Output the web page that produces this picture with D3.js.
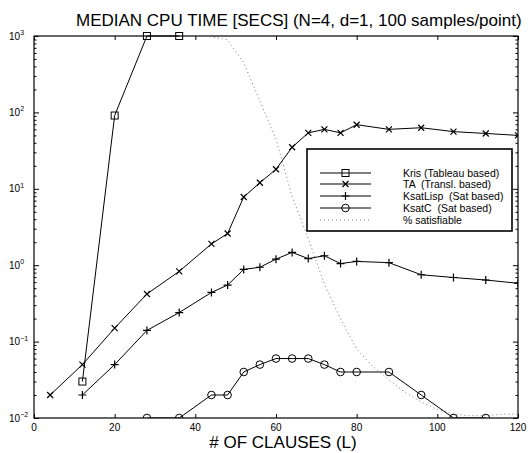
<!DOCTYPE html>
<html>
<head>
<meta charset="utf-8">
<script src="https://cdn.jsdelivr.net/npm/d3@7"></script>
<style>
  html, body { margin: 0; padding: 0; background: #fff; }
  svg { display: block; font-family: "Liberation Sans", Arial, Helvetica, sans-serif; }
</style>
</head>
<body>
<div id="chart"></div>
<script>
// --- données ---
const krisX = [12, 20, 28, 36];
const krisY = [0.03, 91, 1000, 1000];

const taX = [4, 12, 20, 28, 36, 44, 48, 52, 56, 60, 64, 68, 72, 76, 80, 88, 96, 104, 112, 120];
const taY = [0.02, 0.05, 0.15, 0.42, 0.83, 1.9, 2.6, 7.8, 12, 18, 35, 54, 60, 54, 69, 60, 63, 56, 53, 50];

const lispX = [12, 20, 28, 36, 44, 48, 52, 56, 60, 64, 68, 72, 76, 80, 88, 96, 104, 112, 120];
const lispY = [0.02, 0.05, 0.14, 0.24, 0.44, 0.55, 0.88, 0.94, 1.2, 1.47, 1.22, 1.33, 1.05, 1.12, 1.08, 0.75, 0.69, 0.64, 0.58];

const ksatcX = [28, 36, 44, 48, 52, 56, 60, 64, 68, 72, 76, 80, 88, 96, 104, 112];
const ksatcY = [0.01, 0.01, 0.02, 0.02, 0.04, 0.05, 0.06, 0.06, 0.06, 0.05, 0.04, 0.04, 0.04, 0.02, 0.01, 0.01];

// % satisfiable (0..100), tracé sur toute la hauteur du graphique
const satX = [0, 4, 8, 12, 16, 20, 24, 28, 32, 36, 40, 44, 48, 52, 56, 60, 64, 68, 72, 76, 80, 84, 88, 92, 96, 100, 104, 108, 112, 116, 120];
const satPct = [100, 100, 100, 100, 100, 100, 100, 100, 100, 100, 100, 99.8, 99, 93, 83, 73, 58, 47, 35, 26, 18, 13.5, 10, 6.7, 4.2, 2.2, 1, 0.6, 0.6, 1, 1];

const xTicks = [0, 20, 40, 60, 80, 100, 120];
const yExps = [-2, -1, 0, 1, 2, 3];

const titleText = "MEDIAN CPU TIME [SECS] (N=4, d=1, 100 samples/point)";
const xLabelText = "# OF CLAUSES (L)";
const legendLabels = ["Kris (Tableau based)", "TA  (Transl. based)", "KsatLisp  (Sat based)", "KsatC  (Sat based)", "% satisfiable"];

// --- mise en page ---
const W = 530, H = 453;
const margin = {top: 36, right: 12, bottom: 35, left: 34};
const width = W - margin.left - margin.right;
const height = H - margin.top - margin.bottom;

const svg = d3.select("#chart").append("svg")
    .attr("width", W)
    .attr("height", H);

const g = svg.append("g").attr("transform", `translate(${margin.left},${margin.top})`);

const x = d3.scaleLinear().domain([0, 120]).range([0, width]);
const y = d3.scaleLog().domain([0.01, 1000]).range([height, 0]);
const ySat = d3.scaleLinear().domain([0, 100]).range([height, 0]);

// zone de découpe (ouverte vers le haut pour les marqueurs à 10^3)
g.append("clipPath").attr("id", "clip")
  .append("rect").attr("x", -10).attr("y", -10).attr("width", width + 10).attr("height", height + 10);

// --- axes (ticks vers l'intérieur) ---
const minorTicks = [];
yExps.slice(0, -1).forEach(e => { for (let k = 2; k <= 9; k++) minorTicks.push(k * Math.pow(10, e)); });
const majorTicks = yExps.map(e => Math.pow(10, e));

g.append("g").call(d3.axisLeft(y).tickValues(minorTicks).tickSize(-2.5).tickFormat(""))
  .call(a => a.select(".domain").remove());
g.append("g").call(d3.axisLeft(y).tickValues(majorTicks).tickSize(-5).tickFormat(""))
  .call(a => a.select(".domain").remove());
g.append("g").attr("transform", `translate(${width},0)`)
  .call(d3.axisRight(y).tickValues(minorTicks).tickSize(-2.5).tickFormat(""))
  .call(a => a.select(".domain").remove());
g.append("g").attr("transform", `translate(${width},0)`)
  .call(d3.axisRight(y).tickValues(majorTicks).tickSize(-5).tickFormat(""))
  .call(a => a.select(".domain").remove());

g.append("g").attr("transform", `translate(0,${height})`)
  .call(d3.axisBottom(x).tickValues(xTicks).tickSize(-4).tickFormat(""))
  .call(a => a.select(".domain").remove());
g.append("g")
  .call(d3.axisTop(x).tickValues(xTicks).tickSize(-4).tickFormat(""))
  .call(a => a.select(".domain").remove());

g.selectAll(".tick line").attr("stroke", "#000").attr("stroke-width", 1);

// cadre
g.append("rect").attr("width", width).attr("height", height)
  .attr("fill", "none").attr("stroke", "#000").attr("stroke-width", 1.2);

// étiquettes des ticks
g.selectAll(".xlab").data(xTicks).join("text")
  .attr("x", d => x(d)).attr("y", height + 13)
  .attr("text-anchor", "middle").attr("font-size", 10).text(d => d);

const ylab = g.selectAll(".ylab").data(yExps).join("text")
  .attr("x", -25).attr("y", d => y(Math.pow(10, d)) + 3.5)
  .attr("font-size", 10);
ylab.append("tspan").text("10");
ylab.append("tspan").attr("dy", -4.5).attr("font-size", 7).text(d => d < 0 ? "\u2212" + (-d) : d);

// --- séries ---
const seriesList = [
  {name: legendLabels[0], xs: krisX, ys: krisY, marker: "square"},
  {name: legendLabels[1], xs: taX, ys: taY, marker: "cross"},
  {name: legendLabels[2], xs: lispX, ys: lispY, marker: "plus"},
  {name: legendLabels[3], xs: ksatcX, ys: ksatcY, marker: "circle"}
];

function drawMarker(sel, type, cx, cy) {
  if (type === "square") {
    sel.append("rect").attr("x", cx - 3.5).attr("y", cy - 3.5).attr("width", 7).attr("height", 7)
      .attr("fill", "none").attr("stroke", "#000").attr("stroke-width", 1);
  } else if (type === "circle") {
    sel.append("circle").attr("cx", cx).attr("cy", cy).attr("r", 3.8)
      .attr("fill", "none").attr("stroke", "#000").attr("stroke-width", 1);
  } else if (type === "cross") {
    sel.append("path").attr("d", `M${cx - 3},${cy - 3}L${cx + 3},${cy + 3}M${cx - 3},${cy + 3}L${cx + 3},${cy - 3}`)
      .attr("stroke", "#000").attr("stroke-width", 1.2);
  } else if (type === "plus") {
    sel.append("path").attr("d", `M${cx - 4},${cy}L${cx + 4},${cy}M${cx},${cy - 4}L${cx},${cy + 4}`)
      .attr("stroke", "#000").attr("stroke-width", 1.2);
  }
}

const plot = g.append("g").attr("clip-path", "url(#clip)");

// courbe pointillée du % satisfiable
plot.append("path")
  .datum(satX.map((v, i) => [v, satPct[i]]))
  .attr("fill", "none").attr("stroke", "#777").attr("stroke-width", 1)
  .attr("stroke-dasharray", "1,3")
  .attr("d", d3.line().x(d => x(d[0])).y(d => ySat(d[1])));

seriesList.forEach(s => {
  const pts = s.xs.map((v, i) => [v, s.ys[i]]);
  plot.append("path").datum(pts)
    .attr("fill", "none").attr("stroke", "#000").attr("stroke-width", 1)
    .attr("d", d3.line().x(d => x(d[0])).y(d => y(d[1])));
  const mg = plot.append("g");
  pts.forEach(p => drawMarker(mg, s.marker, x(p[0]), y(p[1])));
});

// --- légende ---
const legend = svg.append("g").attr("transform", "translate(307,149)");
legend.append("rect").attr("width", 205).attr("height", 82)
  .attr("fill", "#fff").attr("stroke", "#000").attr("stroke-width", 1.6);

const rowY = [24, 35, 47, 59, 71];
legendLabels.forEach((lab, i) => {
  const ry = rowY[i];
  const line = legend.append("line").attr("x1", 13).attr("x2", 64).attr("y1", ry).attr("y2", ry)
    .attr("stroke", i < 4 ? "#000" : "#777").attr("stroke-width", 1);
  if (i === 4) line.attr("stroke-dasharray", "1,3");
  if (i < 4) drawMarker(legend, seriesList[i].marker, 38.5, ry);
  legend.append("text").attr("x", 96).attr("y", ry + 3.8)
    .attr("font-size", 10.5).style("white-space", "pre").text(lab);
});

// --- titres ---
svg.append("text").attr("x", 76).attr("y", 26).attr("font-size", 17).text(titleText);
svg.append("text").attr("x", 283).attr("y", 448).attr("text-anchor", "middle")
  .attr("font-size", 17).text(xLabelText);
</script>
</body>
</html>
